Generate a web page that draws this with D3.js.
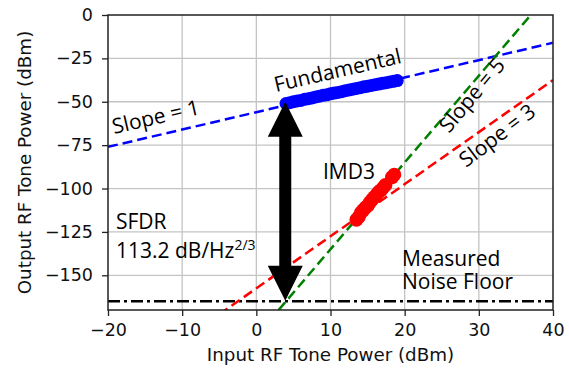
<!DOCTYPE html>
<html>
<head>
<meta charset="utf-8">
<script src="https://cdn.jsdelivr.net/npm/d3@7"></script>
<style>
  body { margin: 0; background: #fff; }
  .tick text { font-family: "DejaVu Sans", sans-serif; font-size: 17.5px; fill: #111; }
  .note { font-family: "Open Sans", Lato, sans-serif; font-size: 21px; fill: #000; }
  .axis-label { font-family: "DejaVu Sans", sans-serif; font-size: 18.3px; fill: #111; }
</style>
</head>
<body>
<div id="chart"></div>
<script>
// tick labels
const xTicks = [-20, -10, 0, 10, 20, 30, 40];
const yTicks = [0, -25, -50, -75, -100, -125, -150];

// measured fundamental tone (input dBm, output dBm)
const fundIn = [4, 4.5, 5, 5.5, 6, 6.5, 7, 7.5, 8, 8.5, 9, 9.5, 10, 10.5, 11, 11.5, 12, 12.5, 13, 13.5, 14, 14.5, 15, 15.5, 16, 16.5, 17, 17.5, 18, 18.5, 19];
const fundOut = [-51, -50.5, -50, -49.5, -49.2, -48.6, -48.2, -47.8, -47.2, -46.8, -46.3, -46, -45.4, -45, -44.6, -44.2, -43.6, -43.2, -42.8, -42.3, -41.9, -41.4, -41, -40.6, -40.2, -39.8, -39.4, -39, -38.6, -38.2, -37.8];

// measured IMD3 tone
const imdIn = [13.5, 13.8, 14.1, 14.4, 14.7, 15, 15.3, 15.6, 15.9, 16.2, 16.5, 16.8, 17.1, 17.4, 18.3, 18.6];
const imdOut = [-118, -116.5, -114, -112.5, -111, -110, -108, -106.5, -105, -103.5, -102, -101, -99.5, -98, -93.5, -92];

// fitted slope lines, drawn as end points and clipped
const slope1 = [[-20, -76], [40, -16]];
const slope3 = [[-5, -172.5], [40, -37.5]];
const slope5 = [[3, -170], [37.5, 2.5]];
const noiseFloor = [[-20, -165], [40, -165]];

const width = 569;
const height = 369;
const margin = { top: 15, right: 16, bottom: 59, left: 108 };

const x = d3.scaleLinear().domain([-20, 40]).range([margin.left, width - margin.right]);
const y = d3.scaleLinear().domain([-170, 0]).range([height - margin.bottom, margin.top]);

const svg = d3.select('#chart')
  .append('svg')
  .attr('width', width)
  .attr('height', height);

svg.append('clipPath')
  .attr('id', 'plot-clip')
  .append('rect')
  .attr('x', margin.left)
  .attr('y', margin.top)
  .attr('width', width - margin.left - margin.right)
  .attr('height', height - margin.top - margin.bottom);

// grid
const grid = svg.append('g').attr('stroke', '#c4c4c4').attr('stroke-width', 1.3);
grid.selectAll('.vg')
  .data(xTicks.slice(1, -1))
  .enter()
  .append('line')
  .attr('x1', d => x(d)).attr('x2', d => x(d))
  .attr('y1', margin.top).attr('y2', height - margin.bottom);
grid.selectAll('.hg')
  .data(yTicks.slice(1))
  .enter()
  .append('line')
  .attr('y1', d => y(d)).attr('y2', d => y(d))
  .attr('x1', margin.left).attr('x2', width - margin.right);

const fmt = d => (d < 0 ? '\u2212' + Math.abs(d) : String(d));

// axes
const xAxis = svg.append('g')
  .attr('transform', `translate(0,${height - margin.bottom})`)
  .call(d3.axisBottom(x).tickValues(xTicks).tickFormat(fmt).tickSize(6).tickPadding(8));
const yAxis = svg.append('g')
  .attr('transform', `translate(${margin.left},0)`)
  .call(d3.axisLeft(y).tickValues(yTicks).tickFormat(fmt).tickSize(6).tickPadding(9));
[xAxis, yAxis].forEach(a => {
  a.select('.domain').remove();
  a.selectAll('.tick line').attr('stroke', '#222').attr('stroke-width', 1.3);
});

const plot = svg.append('g').attr('clip-path', 'url(#plot-clip)');
const line = d3.line().x(d => x(d[0])).y(d => y(d[1]));

plot.append('path').attr('d', line(noiseFloor))
  .attr('stroke', '#000').attr('stroke-width', 2.5).attr('fill', 'none')
  .attr('stroke-dasharray', '12,4,3,4');

const fitLines = [
  { pts: slope1, color: '#0000ff' },
  { pts: slope3, color: '#ff0000' },
  { pts: slope5, color: '#008000' },
];
plot.selectAll('.fit')
  .data(fitLines)
  .enter()
  .append('path')
  .attr('d', d => line(d.pts))
  .attr('stroke', d => d.color)
  .attr('stroke-width', 2.5)
  .attr('fill', 'none')
  .attr('stroke-dasharray', '10,5');

// measured points
plot.selectAll('.fund')
  .data(d3.zip(fundIn, fundOut))
  .enter()
  .append('circle')
  .attr('cx', d => x(d[0])).attr('cy', d => y(d[1]))
  .attr('r', 6.5)
  .attr('fill', '#0000ff');

plot.selectAll('.imd')
  .data(d3.zip(imdIn, imdOut))
  .enter()
  .append('circle')
  .attr('cx', d => x(d[0])).attr('cy', d => y(d[1]))
  .attr('r', 7)
  .attr('fill', '#ff0000');

// spines on top
svg.append('rect')
  .attr('x', margin.left).attr('y', margin.top)
  .attr('width', width - margin.left - margin.right)
  .attr('height', height - margin.top - margin.bottom)
  .attr('fill', 'none').attr('stroke', '#222').attr('stroke-width', 1.5);

// SFDR double arrow between fundamental and noise floor
const ax = x(3.9);
const aTop = y(-50);
const aBot = y(-164.7);
const headW = 17.5;
const headH = 35;
const shaftW = 6;
const arrowPts = [
  [ax, aTop], [ax + headW, aTop + headH], [ax + shaftW, aTop + headH],
  [ax + shaftW, aBot - headH], [ax + headW, aBot - headH], [ax, aBot],
  [ax - headW, aBot - headH], [ax - shaftW, aBot - headH],
  [ax - shaftW, aTop + headH], [ax - headW, aTop + headH],
];
svg.append('polygon')
  .attr('points', arrowPts.map(p => p.join(',')).join(' '))
  .attr('fill', '#000');

// annotations
const notes = [
  { text: 'Fundamental', x: 276, y: 92, rot: -13 },
  { text: 'Slope = 1', x: 114, y: 134, rot: -13 },
  { text: 'IMD3', x: 323, y: 179, rot: 0 },
  { text: 'Slope = 5', x: 449, y: 134, rot: -50 },
  { text: 'Slope = 3', x: 466, y: 168, rot: -37 },
  { text: 'SFDR', x: 116, y: 229, rot: 0 },
  { text: 'Measured', x: 402, y: 266, rot: 0 },
  { text: 'Noise Floor', x: 402, y: 289, rot: 0 },
];
svg.selectAll('.note')
  .data(notes)
  .enter()
  .append('text')
  .attr('class', 'note')
  .attr('transform', d => `translate(${d.x},${d.y}) rotate(${d.rot})`)
  .text(d => d.text);

const sfdr = svg.append('text')
  .attr('class', 'note')
  .attr('x', 116).attr('y', 258);
sfdr.append('tspan').text('113.2 dB/Hz');
sfdr.append('tspan')
  .attr('dy', -8)
  .style('font-size', '14px')
  .text('2/3');

// axis labels
svg.append('text')
  .attr('class', 'axis-label')
  .attr('x', (margin.left + width - margin.right) / 2)
  .attr('y', 361)
  .attr('text-anchor', 'middle')
  .text('Input RF Tone Power (dBm)');

svg.append('text')
  .attr('class', 'axis-label')
  .attr('transform', `translate(31,${(margin.top + height - margin.bottom) / 2}) rotate(-90)`)
  .attr('text-anchor', 'middle')
  .text('Output RF Tone Power (dBm)');
</script>
</body>
</html>
